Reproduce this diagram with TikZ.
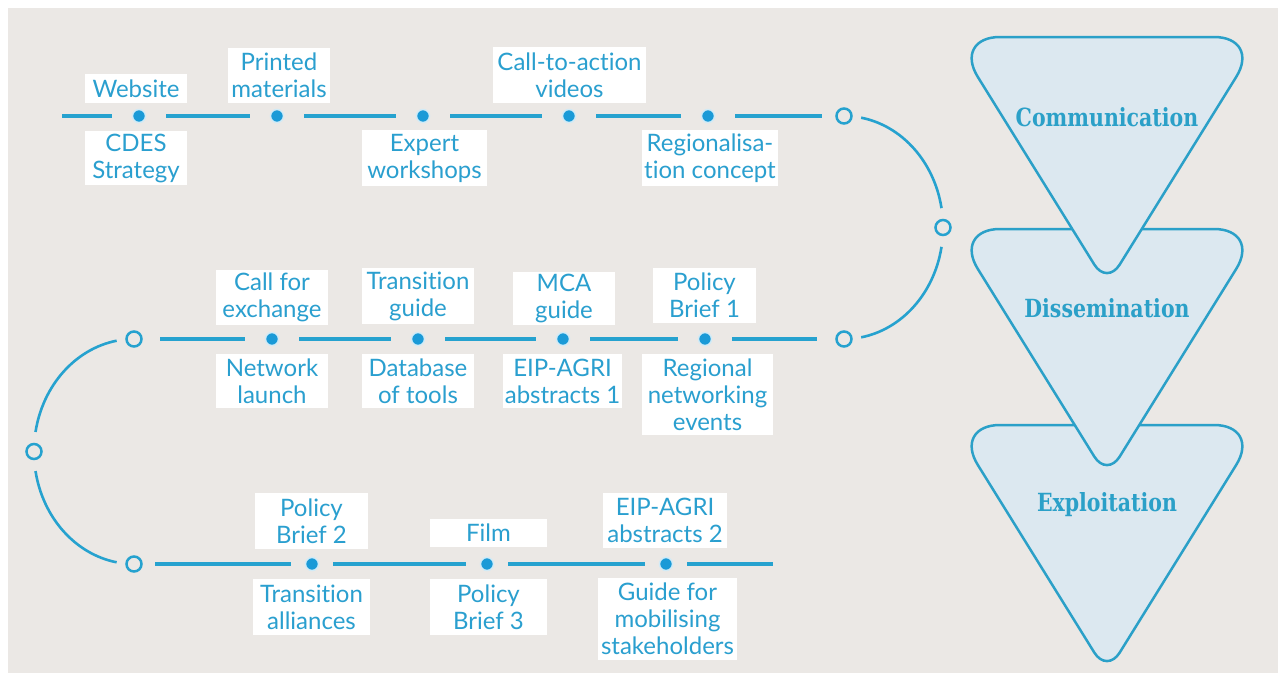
\documentclass[tikz,border=0pt]{standalone}
\usepackage{fontspec}
\setmainfont{Lato}[Ligatures=NoCommon]
\newfontfamily\slabfont{DejaVu Serif}
\usetikzlibrary{calc}

\definecolor{bgpaper}{HTML}{EBE8E5}
\definecolor{tline}{HTML}{26A2CF}
\definecolor{ttext}{HTML}{2A9FCF}
\definecolor{tdot}{HTML}{1A9AD7}
\definecolor{trifill}{HTML}{DCE8F0}
\definecolor{triedge}{HTML}{2BA0C8}

\tikzset{
  lab/.style={fill=white, text=ttext, align=center, inner sep=0pt,
    font=\fontsize{24}{27}\selectfont},
  tdotnode/.style={circle, fill=tdot, draw=white!80!tdot, line width=1.5pt,
    inner sep=0pt, minimum size=13pt},
  ringnode/.style={circle, draw=tline, line width=2.5pt, inner sep=0pt,
    minimum size=15pt},
  seg/.style={draw=tline, line width=4pt},
  arcline/.style={draw=tline, line width=2.6pt},
  tri/.style={fill=trifill, draw=triedge, line width=2.5pt},
  funtext/.style={text=triedge, inner sep=0pt,
    font=\slabfont\bfseries\fontsize{25}{30}\selectfont},
}

% label: name, centre x, centre y (downwards), width, height, text
\newcommand\tlabel[6]{\node[lab, minimum width=#4pt, minimum height=#5pt] (#1) at (#2,-#3) {#6};}

% funnel stage: downward triangle with wide top corners and a tighter tip;
% #1 = top edge y (downwards)
\newcommand\funnelstage[1]{%
  \begin{scope}[yshift=-#1pt]
    \coordinate (TL) at (953,0);
    \coordinate (TR) at (1261,0);
    \coordinate (AP) at (1107,-248);
    \coordinate (P1) at ($(TL)!47pt!(TR)$);
    \coordinate (P2) at ($(TR)!47pt!(TL)$);
    \coordinate (P3) at ($(TR)!47pt!(AP)$);
    \coordinate (P4) at ($(AP)!24pt!(TR)$);
    \coordinate (P5) at ($(AP)!24pt!(TL)$);
    \coordinate (P6) at ($(TL)!47pt!(AP)$);
    \draw[tri] (P1) -- (P2)
      .. controls ($(P2)!0.5523!(TR)$) and ($(P3)!0.5523!(TR)$) .. (P3)
      -- (P4)
      .. controls ($(P4)!0.5523!(AP)$) and ($(P5)!0.5523!(AP)$) .. (P5)
      -- (P6)
      .. controls ($(P6)!0.5523!(TL)$) and ($(P1)!0.5523!(TL)$) .. (P1)
      -- cycle;
  \end{scope}}

\begin{document}
\begin{tikzpicture}[x=1pt, y=1pt]
\useasboundingbox (0,0) rectangle (1284,-673);
\fill[white] (0,0) rectangle (1284,-673);
\fill[bgpaper] (8,-8) rectangle (1278,-673);

% ---- funnel: drawn bottom-up so each upper one overlaps the next
\funnelstage{425}
\funnelstage{229}
\funnelstage{37}
\node[funtext] (comm) at (1107,-117) {\scalebox{0.82}[1]{Communication}};
\node[funtext] (diss) at (1107,-308) {\scalebox{0.82}[1]{Dissemination}};
\node[funtext] (expl) at (1107,-505) {\scalebox{0.82}[1]{Exploitation}};

% ---- milestones
\coordinate (s1) at (62,-116);
\node[tdotnode] (a1) at (139,-116) {};
\node[tdotnode] (a2) at (277,-116) {};
\node[tdotnode] (a3) at (423,-116) {};
\node[tdotnode] (a4) at (569,-116) {};
\node[tdotnode] (a5) at (708,-116) {};
\node[ringnode] (r1) at (844,-116) {};
\node[ringnode] (r2) at (943,-227.5) {};
\node[ringnode] (r3) at (844,-339) {};

\node[tdotnode] (b1) at (272,-339) {};
\node[tdotnode] (b2) at (418,-339) {};
\node[tdotnode] (b3) at (563,-339) {};
\node[tdotnode] (b4) at (705,-339) {};
\node[ringnode] (l1) at (134,-339) {};
\node[ringnode] (l2) at (34,-451.5) {};
\node[ringnode] (l3) at (134,-564) {};

\node[tdotnode] (c1) at (312,-564) {};
\node[tdotnode] (c2) at (487,-564) {};
\node[tdotnode] (c3) at (666,-564) {};
\coordinate (e3) at (773,-564);

% ---- straight runs
\draw[seg, shorten >=27pt] (s1) -- (a1.center);
\draw[seg, shorten <=27pt, shorten >=27pt] (a1.center) -- (a2.center);
\draw[seg, shorten <=27pt, shorten >=27pt] (a2.center) -- (a3.center);
\draw[seg, shorten <=27pt, shorten >=27pt] (a3.center) -- (a4.center);
\draw[seg, shorten <=27pt, shorten >=27pt] (a4.center) -- (a5.center);
\draw[seg, shorten <=27pt, shorten >=22pt] (a5.center) -- (r1.center);

\draw[seg, shorten <=26pt, shorten >=27pt] (l1.center) -- (b1.center);
\draw[seg, shorten <=27pt, shorten >=27pt] (b1.center) -- (b2.center);
\draw[seg, shorten <=27pt, shorten >=27pt] (b2.center) -- (b3.center);
\draw[seg, shorten <=27pt, shorten >=27pt] (b3.center) -- (b4.center);
\draw[seg, shorten <=27pt, shorten >=27pt] (b4.center) -- (r3.center);

\draw[seg, shorten <=21pt, shorten >=21pt] (l3.center) -- (c1.center);
\draw[seg, shorten <=21pt, shorten >=21pt] (c1.center) -- (c2.center);
\draw[seg, shorten <=21pt, shorten >=21pt] (c2.center) -- (c3.center);
\draw[seg, shorten <=21pt] (c3.center) -- (e3);

% ---- bends
\coordinate (rc) at (844,-227.5);
\coordinate (lc) at (134,-451.5);
\draw[arcline] ([shift={(80:99 and 111.5)}]rc) arc[start angle=80, end angle=10, x radius=99, y radius=111.5];
\draw[arcline] ([shift={(-10:99 and 111.5)}]rc) arc[start angle=-10, end angle=-80, x radius=99, y radius=111.5];
\draw[arcline] ([shift={(100:100 and 112.5)}]lc) arc[start angle=100, end angle=170, x radius=100, y radius=112.5];
\draw[arcline] ([shift={(190:100 and 112.5)}]lc) arc[start angle=190, end angle=260, x radius=100, y radius=112.5];

% ---- labels
\tlabel{web}{136}{88.5}{102}{29}{Website}
\tlabel{cdes}{136}{158}{102}{54}{CDES\\Strategy}
\tlabel{printed}{279}{75.5}{102}{55}{Printed\\materials}
\tlabel{cta}{569.5}{75}{153}{56}{Call-to-action\\videos}
\tlabel{expert}{424.5}{158}{125}{56}{Expert\\workshops}
\tlabel{regio}{710}{158}{136}{56}{Regionalisa-\\tion concept}

\tlabel{callfor}{272}{297.5}{112}{55}{Call for\\exchange}
\tlabel{network}{272}{381}{112}{54}{Network\\launch}
\tlabel{transg}{418}{296}{112}{56}{Transition\\guide}
\tlabel{database}{418}{381}{112}{54}{Database\\of tools}
\tlabel{mca}{564}{298.5}{102}{53}{MCA\\guide}
\tlabel{eipa}{562.5}{381}{119}{54}{EIP-AGRI\\abstracts 1}
\tlabel{pba}{704.5}{295.5}{103}{55}{Policy\\Brief 1}
\tlabel{regional}{707.5}{394.5}{131}{81}{Regional\\networking\\events}

\tlabel{pbb}{311.5}{521}{113}{56}{Policy\\Brief 2}
\tlabel{film}{488.5}{533}{117}{28}{Film}
\tlabel{eipb}{665}{520.5}{124}{55}{EIP-AGRI\\abstracts 2}
\tlabel{talliance}{311.5}{607}{117}{56}{Transition\\alliances}
\tlabel{pbc}{488.5}{607}{117}{56}{Policy\\Brief 3}
\tlabel{guide}{667.5}{619}{139}{82}{Guide for\\mobilising\\stakeholders}
\end{tikzpicture}
\end{document}
